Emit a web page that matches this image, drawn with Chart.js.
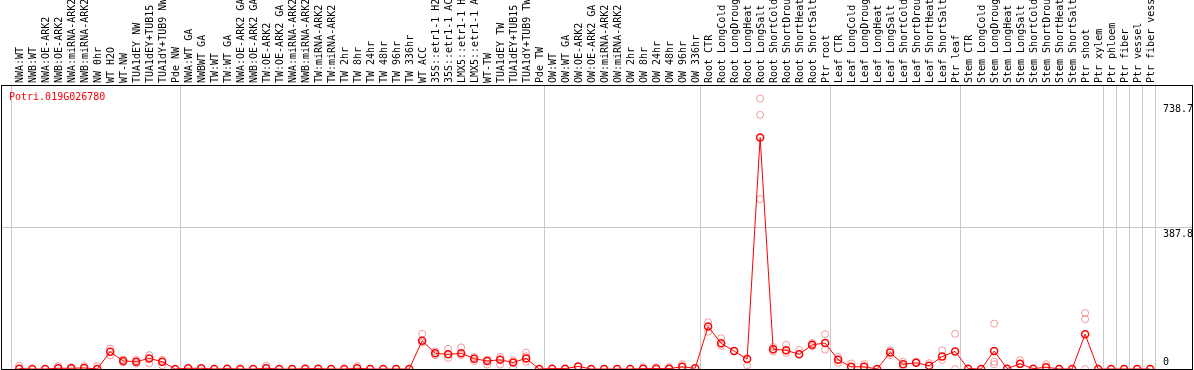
<!DOCTYPE html>
<html lang="en">
<head>
<meta charset="UTF-8">
<title>Potri.019G026780</title>
<script src="https://cdn.jsdelivr.net/npm/chart.js"></script>
<style>
  body { margin: 0; background: #fff; }
  .chart-box { width: 1194px; height: 370px; }
</style>
</head>
<body>
<div class="chart-box"><canvas id="exprChart" width="1194" height="370"></canvas></div>
<script>
const geneName = 'Potri.019G026780';

const sampleLabels = [
  'NWA:WT', 'NWB:WT', 'NWA:OE-ARK2', 'NWB:OE-ARK2', 'NWA:miRNA-ARK2', 'NWB:miRNA-ARK2',
  'NW 0hr', 'WT H2O', 'WT-NW', 'TUA1dEY NW', 'TUA1dEY+TUB15', 'TUA1dY+TUB9 NW', 'Pde NW',
  'NWA:WT GA', 'NWBWT GA', 'TW:WT', 'TW:WT GA', 'NWA:OE-ARK2 GA', 'NWB:OE-ARK2 GA',
  'TW:OE-ARK2', 'TW:OE-ARK2 GA', 'NWA:miRNA-ARK2', 'NWB:miRNA-ARK2', 'TW:miRNA-ARK2',
  'TW:miRNA-ARK2', 'TW 2hr', 'TW 8hr', 'TW 24hr', 'TW 48hr', 'TW 96hr', 'TW 336hr',
  'WT ACC', '35S::etr1-1 H2O', '35S::etr1-1 ACC', 'LMX5::etr1-1 H2O', 'LMX5::etr1-1 ACC',
  'WT-TW', 'TUA1dEY TW', 'TUA1dEY+TUB15', 'TUA1dY+TUB9 TW', 'Pde TW',
  'OW:WT', 'OW:WT GA', 'OW:OE-ARK2', 'OW:OE-ARK2 GA', 'OW:miRNA-ARK2', 'OW:miRNA-ARK2',
  'OW 2hr', 'OW 8hr', 'OW 24hr', 'OW 48hr', 'OW 96hr', 'OW 336hr',
  'Root CTR', 'Root LongCold', 'Root LongDrought', 'Root LongHeat', 'Root LongSalt',
  'Root ShortCold', 'Root ShortDrought', 'Root ShortHeat', 'Root ShortSalt', 'Ptr root',
  'Leaf CTR', 'Leaf LongCold', 'Leaf LongDrought', 'Leaf LongHeat', 'Leaf LongSalt',
  'Leaf ShortCold', 'Leaf ShortDrought', 'Leaf ShortHeat', 'Leaf ShortSalt', 'Ptr leaf',
  'Stem CTR', 'Stem LongCold', 'Stem LongDrought', 'Stem LongHeat', 'Stem LongSalt',
  'Stem ShortCold', 'Stem ShortDrought', 'Stem ShortHeat', 'Stem ShortSalt', 'Ptr shoot',
  'Ptr xylem', 'Ptr phloem', 'Ptr fiber', 'Ptr vessel', 'Ptr fiber vessel'
];

// mean expression per sample
const meanValues = [
  1, 0, 0, 2, 2, 3, 0, 47, 22, 20, 29, 20, 0,
  2, 2, 0, 1, 0, 0, 2, 0, 0, 1, 1, 0, 0, 2, 0, 0, 0, 0,
  77, 43, 40, 43, 28, 22, 25, 18, 29, 0,
  1, 1, 7, 0, 0, 0, 0, 1, 1, 1, 6, 2,
  116, 70, 49, 27, 632, 54, 51, 40, 66, 71,
  25, 6, 6, 0, 45, 13, 17, 9, 34, 48,
  1, 0, 49, 1, 14, 1, 5, 0, 0, 95,
  0, 0, 0, 0, 0
];

// individual replicates that show apart from the mean
const replicateValues = [
  [9], [], [], [8], [5], [8], [8], [56, 37], [26, 18], [25, 15], [38, 15], [25, 10], [],
  [], [], [], [], [], [], [9], [], [], [], [], [], [], [8], [], [], [], [],
  [96, 72], [48, 38], [55, 30], [59, 38], [33, 22], [26, 12], [33, 12], [24, 2], [45, 35, 20], [],
  [], [], [], [], [], [], [], [5], [5], [5], [13], [],
  [128, 102], [84, 64], [], [10], [738.7, 694, 464], [60, 48], [66, 44], [52], [71, 62], [95, 53],
  [33, 17], [15], [13], [], [51, 38], [20, 7], [20], [16], [51, 25], [96, 0],
  [], [], [124, 20, 13], [], [24], [], [13], [], [], [153, 136, 0],
  [], [], [], [], []
];

// first sample of each group (gray separators)
const groupStarts = [0, 13, 41, 53, 63, 73, 84, 85, 86, 87, 88];

const yMax = 775.6;
const yMidLine = 387.8;
const yTickValues = [0, 387.8, 738.7];

const monoFont = '10px "DejaVu Sans Mono"';

// frame, value labels and gene name
const framePlugin = {
  id: 'frame',
  afterDraw(chart) {
    const { ctx, chartArea: a, scales: { y } } = chart;
    ctx.save();
    ctx.strokeStyle = '#000';
    ctx.lineWidth = 1;
    ctx.strokeRect(a.left + 0.5, a.top + 0.5, a.right - a.left - 1, a.bottom - a.top);

    ctx.font = monoFont;
    ctx.fillStyle = '#000';
    ctx.textAlign = 'left';
    yTickValues.forEach(v => {
      const py = y.getPixelForValue(v);
      if (v === 0) {
        ctx.textBaseline = 'bottom';
        ctx.fillText('0', a.right - 30, py - 2);
      } else {
        ctx.textBaseline = 'top';
        ctx.fillText(v.toFixed(1), a.right - 30, py + (v === yMidLine ? 2 : 6));
      }
    });

    ctx.fillStyle = '#ff0000';
    ctx.textBaseline = 'top';
    ctx.fillText(geneName, a.left + 8, a.top + 7);
    ctx.restore();
  }
};

// keep the plot flush with the canvas edges
const noSidePadding = s => { s.paddingLeft = 0; s.paddingRight = 0; };

new Chart(document.getElementById('exprChart'), {
  type: 'line',
  data: {
    datasets: [
      {
        label: 'mean',
        data: meanValues.map((v, i) => ({ x: i, y: v })),
        borderColor: '#ff0000',
        borderWidth: 1,
        pointRadius: 3.5,
        pointBorderWidth: 1.5,
        pointBorderColor: '#ff0000',
        pointBackgroundColor: 'rgba(0,0,0,0)',
        tension: 0,
        clip: 0
      },
      {
        label: 'replicates',
        data: replicateValues.flatMap((vals, i) => vals.map(v => ({ x: i, y: v }))),
        showLine: false,
        pointRadius: 3.5,
        pointBorderWidth: 1,
        pointBorderColor: 'rgba(235, 90, 90, 0.6)',
        pointBackgroundColor: 'rgba(0,0,0,0)',
        clip: 0
      }
    ]
  },
  options: {
    responsive: false,
    animation: false,
    layout: { autoPadding: false, padding: { left: 1, right: 1, top: 0, bottom: 1 } },
    plugins: {
      legend: { display: false },
      tooltip: { enabled: false }
    },
    scales: {
      x: {
        type: 'linear',
        position: 'top',
        min: -1.4,
        max: 90.3,
        afterBuildTicks: s => { s.ticks = sampleLabels.map((_, i) => ({ value: i })); },
        afterFit: s => { s.height = 85; noSidePadding(s); },
        ticks: {
          autoSkip: false,
          minRotation: 90,
          maxRotation: 90,
          padding: 2,
          labelOffset: 13,
          color: '#000',
          font: { family: 'DejaVu Sans Mono', size: 10 },
          callback: v => sampleLabels[v]
        },
        grid: { display: false, drawTicks: false },
        border: { display: false }
      },
      groups: {
        type: 'linear',
        position: 'bottom',
        min: -1.4,
        max: 90.3,
        afterBuildTicks: s => { s.ticks = groupStarts.map(i => ({ value: i - 0.6 })); },
        afterFit: s => { s.height = 0; noSidePadding(s); },
        ticks: { display: false },
        grid: { color: '#c8c8c8', drawTicks: false },
        border: { display: false }
      },
      y: {
        position: 'right',
        min: 0,
        max: yMax,
        afterBuildTicks: s => { s.ticks = [{ value: yMidLine }]; },
        afterFit: s => { s.width = 0; },
        ticks: { display: false },
        grid: { color: '#c8c8c8', drawTicks: false },
        border: { display: false }
      }
    }
  },
  plugins: [framePlugin]
});
</script>
</body>
</html>
